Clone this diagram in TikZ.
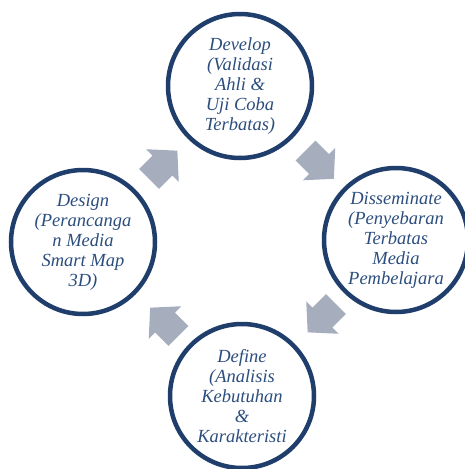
\documentclass[tikz,border=0pt]{standalone}
\usepackage{fontspec}
\setmainfont{Liberation Serif}
\definecolor{navy}{HTML}{1F3E6C}
\definecolor{txtblue}{HTML}{2C4E7E}
\definecolor{arrowgray}{HTML}{A6AEBE}
\tikzset{
  phase/.style={circle, draw=navy, line width=4.5pt, minimum size=144pt, inner sep=0pt, fill=white,
    font=\itshape\fontsize{18.5}{20}\selectfont, text=txtblue, align=center},
  pics/blockarrow/.style={code={
    \fill[arrowgray] (-19,-14) -- (0,-14) -- (0,-23) -- (21,0) -- (0,23) -- (0,14) -- (-19,14) -- cycle;}}
}
\begin{document}
\begin{tikzpicture}[x=1pt,y=-1pt]
\useasboundingbox (0,0) rectangle (465,469);
\clip (0,0) rectangle (465,469);
\node[phase] (develop) at (240,86) {Develop\\(Validasi\\Ahli \&\\Uji Coba\\Terbatas)};
\node[phase] (dissem) at (396,240) {Disseminate\\(Penyebaran\\Terbatas\\Media\\Pembelajara};
\node[phase] (define) at (242,396) {Define\\(Analisis\\Kebutuhan\\\&\\Karakteristi};
\node[phase] (design) at (83,242) {Design\\(Perancanga\\n Media\\Smart Map\\3D)};
\pic[rotate=45] at (162.5,165.5) {blockarrow};
\pic[rotate=-45] at (319,164) {blockarrow};
\pic[rotate=-135] at (322.5,317.5) {blockarrow};
\pic[rotate=135] at (165,322.5) {blockarrow};
\end{tikzpicture}
\end{document}
